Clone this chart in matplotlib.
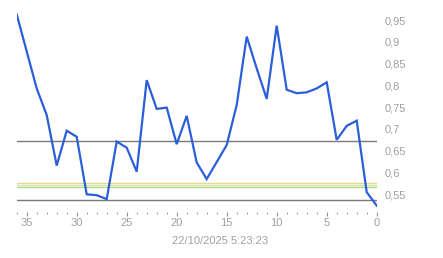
"""Recreate the small price-history chart (last 36 samples, right-hand y axis)."""

import matplotlib

matplotlib.use("Agg")
import matplotlib.pyplot as plt
from matplotlib.ticker import FuncFormatter, MultipleLocator

plt.rcParams["font.family"] = ["Liberation Sans", "DejaVu Sans"]

# samples back in time (36 = oldest, 0 = now)
steps = list(range(36, -1, -1))
values = [
    0.963, 0.878, 0.793, 0.732, 0.616, 0.696, 0.682, 0.550, 0.548, 0.539,
    0.671, 0.657, 0.602, 0.812, 0.746, 0.749, 0.665, 0.730, 0.623, 0.585,
    0.624, 0.663, 0.755, 0.912, 0.839, 0.769, 0.937, 0.790, 0.782, 0.784,
    0.793, 0.807, 0.675, 0.707, 0.719, 0.555, 0.524,
]

# reference levels drawn across the chart
gray_levels = [0.672, 0.537]
band_levels = [0.577, 0.5714, 0.566]
band_colors = ["#eed58a", "#cfe8a4", "#addb92"]

timestamp = "22/10/2025 5:23:23"

W, H = 443, 258
fig = plt.figure(figsize=(W / 100, H / 100), dpi=100)
left, right, top, bottom = 16.7, 376.7, 10, 212
ax = fig.add_axes([left / W, 1 - bottom / H, (right - left) / W, (bottom - top) / H])

# y pixel -> value mapping
ax.set_ylim(0.95 - (bottom - 20) / 435.8, 0.95 - (top - 20) / 435.8)
ax.set_xlim(36, 0)

for lvl in gray_levels:
    ax.axhline(lvl, color="#7a7a7a", linewidth=1.0, zorder=1)
for lvl, col in zip(band_levels, band_colors):
    ax.axhline(lvl, color=col, linewidth=1.0, zorder=1)

ax.plot(steps, values, color="#2b5fd9", linewidth=1.6, zorder=3,
        solid_joinstyle="miter")

for side in ("top", "left", "right", "bottom"):
    ax.spines[side].set_visible(False)

ax.xaxis.set_major_locator(MultipleLocator(5))
ax.xaxis.set_minor_locator(MultipleLocator(1))
ax.tick_params(axis="x", which="major", direction="out", length=3.2,
               width=0.8, color="#909090", labelcolor="#a0a0a0",
               labelsize=8, pad=1.2)
ax.tick_params(axis="x", which="minor", direction="out", length=1.5,
               width=0.8, color="#a0a0a0")

ax.yaxis.set_major_locator(MultipleLocator(0.05))
ax.yaxis.set_major_formatter(
    FuncFormatter(lambda v, _: f"{v:g}".replace(".", ",")))
ax.yaxis.tick_right()
ax.tick_params(axis="y", which="both", length=0, pad=6,
               labelcolor="#a0a0a0", labelsize=8)

fig.text(220 / W, 1 - 241.5 / H, timestamp, ha="center", va="center",
         color="#a0a0a0", fontsize=8)

fig.savefig("out.png", dpi=100)
